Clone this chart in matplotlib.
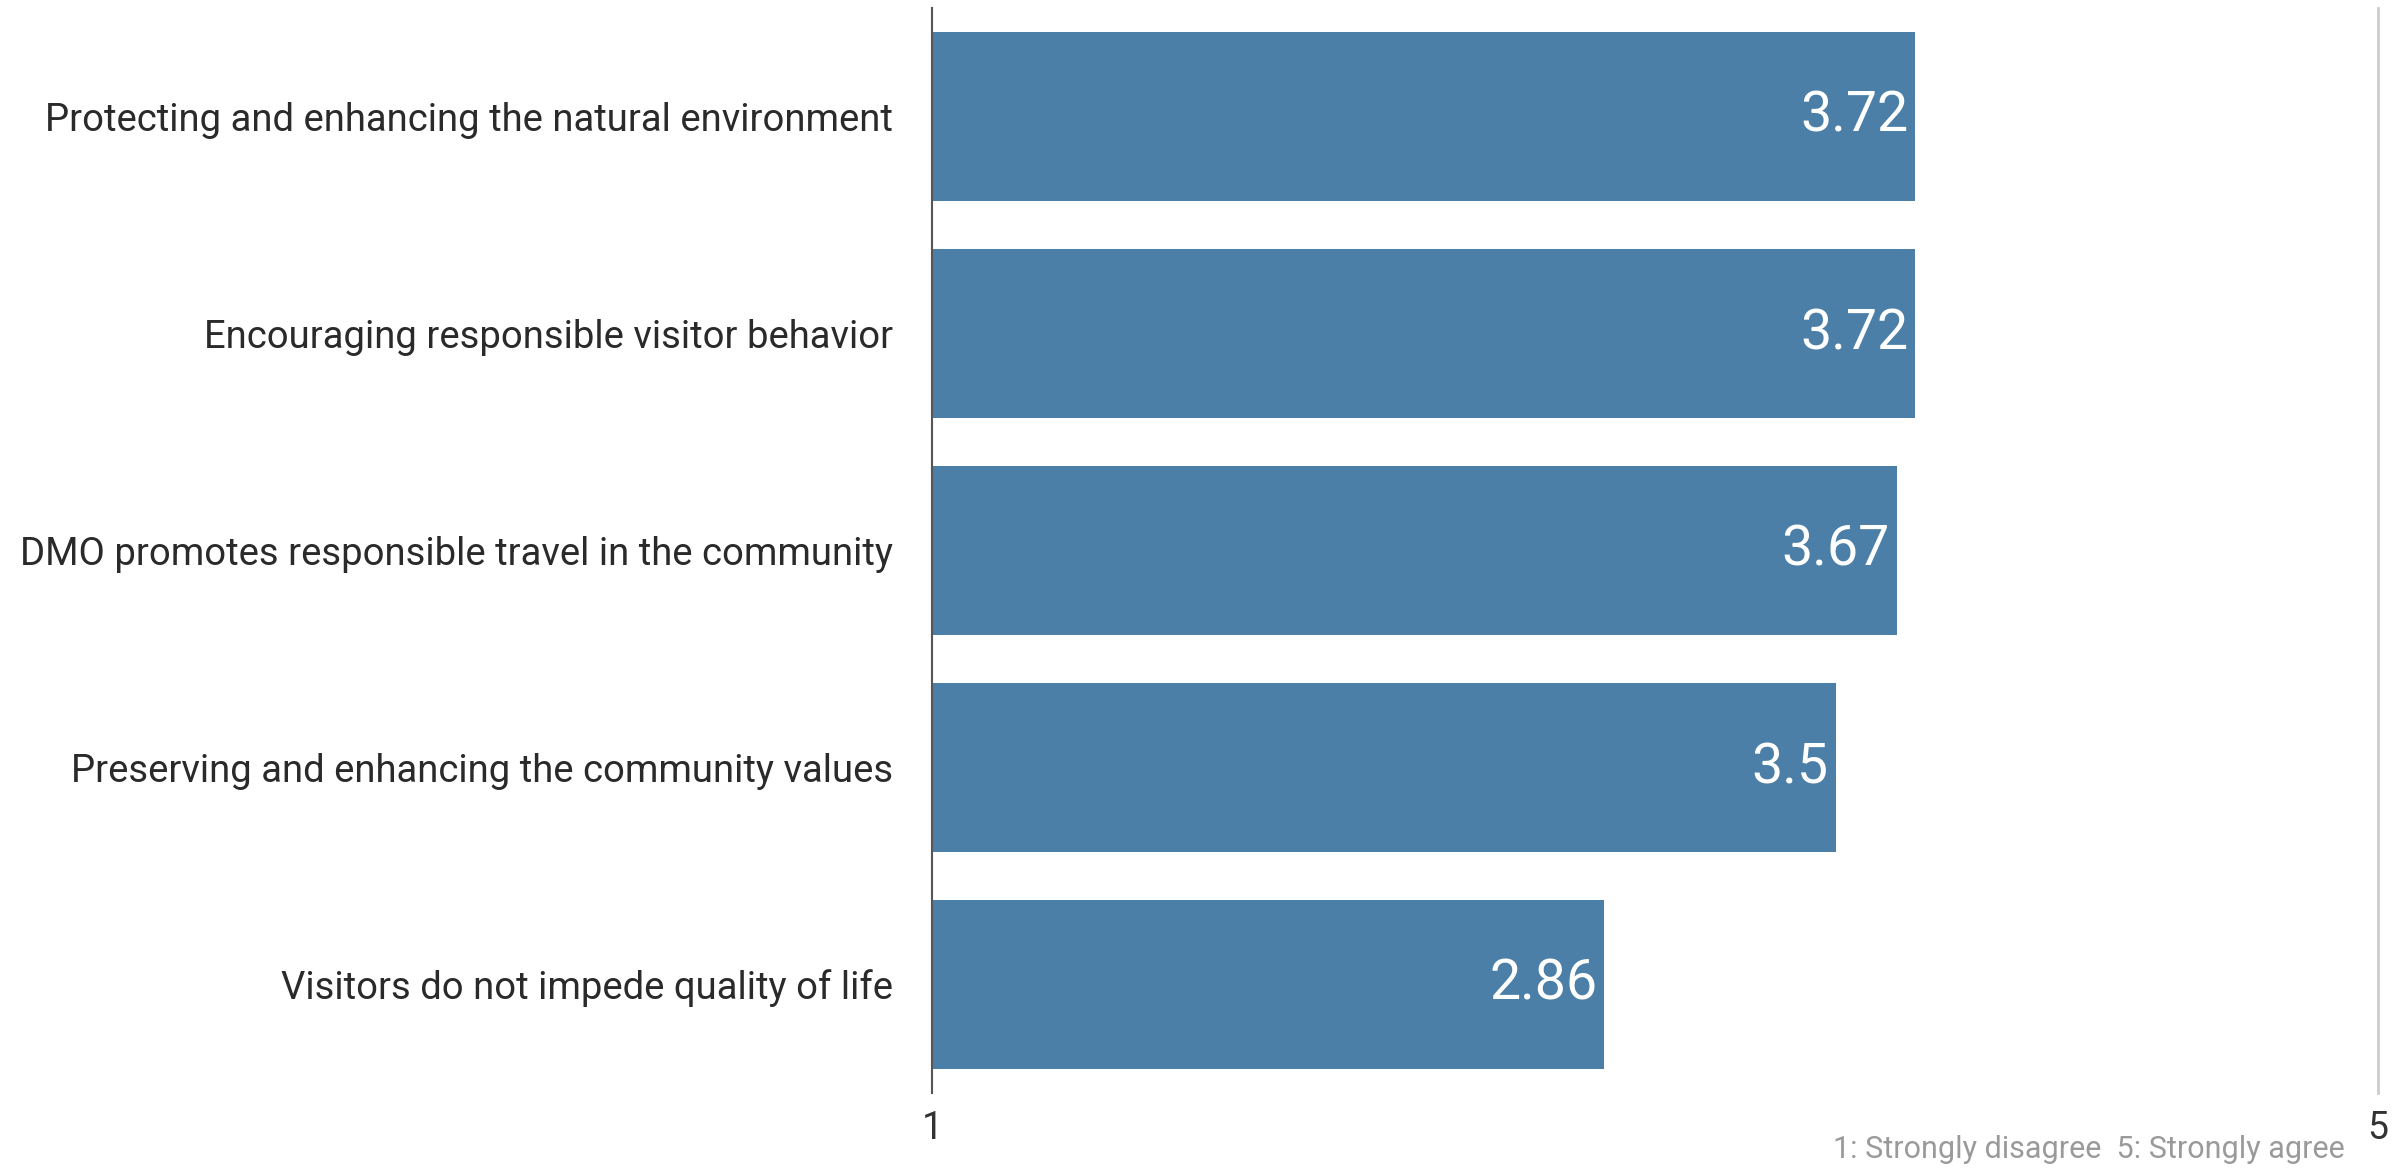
import matplotlib.pyplot as plt

# survey statements and mean agreement scores (1-5 scale)
statements = [
    'Protecting and enhancing the natural environment',
    'Encouraging responsible visitor behavior',
    'DMO promotes responsible travel in the community',
    'Preserving and enhancing the community values',
    'Visitors do not impede quality of life',
]
scores = [3.72, 3.72, 3.67, 3.5, 2.86]
score_labels = ['3.72', '3.72', '3.67', '3.5', '2.86']
scale_min = 1
scale_max = 5

plt.rcParams['font.family'] = ['Roboto', 'DejaVu Sans']

fig = plt.figure(figsize=(24.05, 11.69), dpi=100)
ax = fig.add_axes([932 / 2405, 1 - 1093 / 1169, (2378 - 932) / 2405, (1093 - 8) / 1169])

bar_color = '#4b7fa7'
pos = list(range(len(statements)))
widths = [s - scale_min for s in scores]
ax.barh(pos, widths, left=scale_min, height=0.78, color=bar_color)

for p, s, lab in zip(pos, scores, score_labels):
    ax.text(s - 0.02, p, lab, ha='right', va='center', color='white', fontsize=40)

ax.set_xlim(scale_min, scale_max)
ax.set_ylim(len(statements) - 0.5, -0.5)

ax.set_yticks(pos)
ax.set_yticklabels(statements, fontsize=27.5, color='#2a2a2a')
ax.tick_params(axis='y', length=0, pad=28)
ax.set_xticks([scale_min, scale_max])
ax.set_xticklabels([str(scale_min), str(scale_max)], fontsize=27, color='#333333')
ax.tick_params(axis='x', length=0, pad=12)

for side in ['top', 'bottom']:
    ax.spines[side].set_visible(False)
ax.spines['left'].set_color('#555555')
ax.spines['left'].set_linewidth(1.5)
ax.spines['right'].set_color('#cccccc')
ax.spines['right'].set_linewidth(2)

fig.text(2345 / 2405, 1 - 1150 / 1169, '1: Strongly disagree  5: Strongly agree',
         ha='right', va='center', fontsize=22, color='#9a9a9a')

fig.savefig('out.png', dpi=100, facecolor='white')
